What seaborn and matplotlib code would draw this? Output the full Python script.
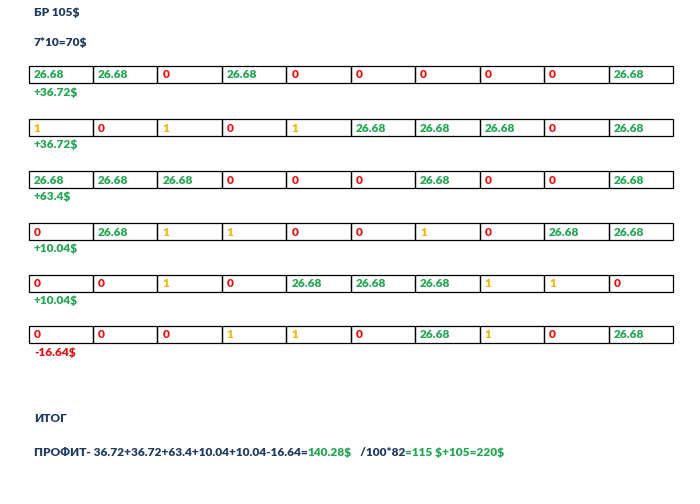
import matplotlib
matplotlib.use("Agg")
import matplotlib.pyplot as plt
import seaborn as sns
from matplotlib.patches import Rectangle

sns.set_theme(style="white")
plt.rcParams['font.family'] = ['Lato', 'DejaVu Sans']

row1 = ["26.68", "26.68", "0", "26.68", "0", "0", "0", "0", "0", "26.68"]
row2 = ["1", "0", "1", "0", "1", "26.68", "26.68", "26.68", "0", "26.68"]
row3 = ["26.68", "26.68", "26.68", "0", "0", "0", "26.68", "0", "0", "26.68"]
row4 = ["0", "26.68", "1", "1", "0", "0", "1", "0", "26.68", "26.68"]
row5 = ["0", "0", "1", "0", "26.68", "26.68", "26.68", "1", "1", "0"]
row6 = ["0", "0", "0", "1", "1", "0", "26.68", "1", "0", "26.68"]
rows = [row1, row2, row3, row4, row5, row6]
profits = ["+36.72$", "+36.72$", "+63.4$", "+10.04$", "+10.04$", "-16.64$"]

DARK = "#1f3a60"
GREEN = "#22a652"
RED = "#e81010"
YELLOW = "#f2b705"
colmap = {"26.68": GREEN, "0": RED, "1": YELLOW}

fig = plt.figure(figsize=(7, 5.04), dpi=100)
ax = fig.add_axes([0, 0, 1, 1])
ax.set_xlim(0, 700)
ax.set_ylim(504, 0)
ax.axis("off")

FS = 8.6
kw = dict(fontsize=FS, fontweight="heavy", parse_math=False)
x0, cw = 28.5, 64.45
tops = [66, 119, 171, 223, 274.5, 326]
rh = 17
for r, (vals, top) in enumerate(zip(rows, tops)):
    for c, v in enumerate(vals):
        ax.add_patch(Rectangle((x0 + c * cw, top), cw, rh, fill=False, ec="black", lw=0.9))
        ax.text(x0 + c * cw + 5, top + rh / 2 + 0.5, v, color=colmap[v],
                va="center", ha="left", **kw)
    pc = RED if profits[r].startswith("-") else GREEN
    ax.text(34, top + rh + 9, profits[r], color=pc, va="center", ha="left", **kw)

ax.text(34, 13, "БР 105$", color=DARK, va="center", **kw)
ax.text(34, 42, "7*10=70$", color=DARK, va="center", **kw)
ax.text(34, 419, "ИТОГ", color=DARK, va="center", **kw)

parts = [("ПРОФИТ- 36.72+36.72+63.4+10.04+10.04-16.64=", DARK),
         ("140.28$", GREEN), ("   /100*82", DARK), ("=115 $+105=220$", GREEN)]
t = ax.text(34, 456, parts[0][0], color=parts[0][1], va="baseline", ha="left", **kw)
for s, col in parts[1:]:
    t = ax.annotate(s, xy=(1, 0), xycoords=t, va="bottom", ha="left", color=col,
                    fontsize=FS, fontweight="heavy", annotation_clip=False)
    t.set_parse_math(False)

fig.savefig("out.png", dpi=100, facecolor="white")
